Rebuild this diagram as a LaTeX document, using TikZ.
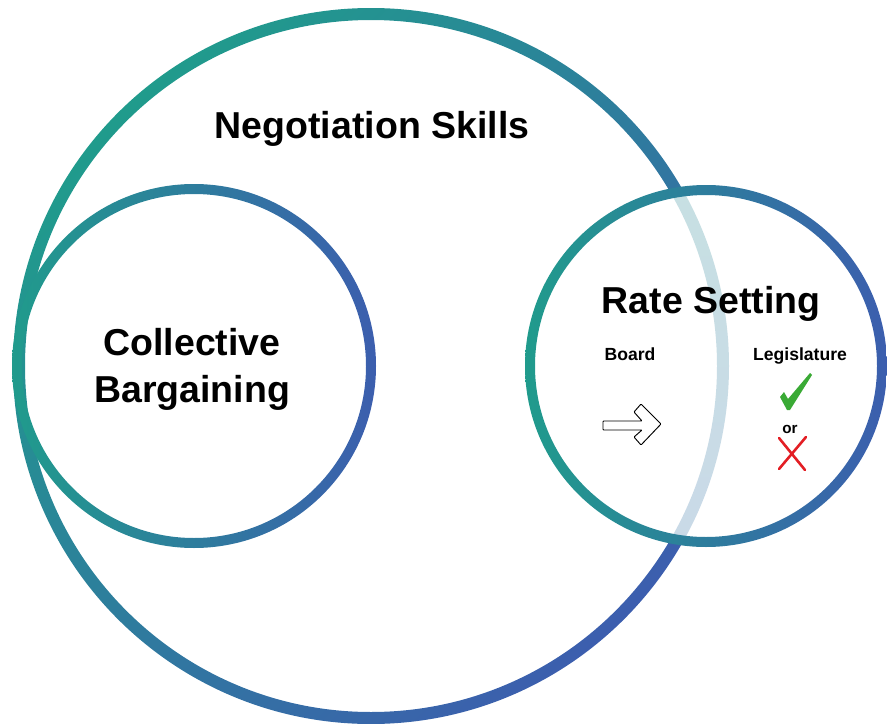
\documentclass[tikz,border=0pt]{standalone}
\usepackage{fontspec}
\setmainfont{Liberation Sans}

\definecolor{ringteal}{RGB}{32,155,140}
\definecolor{ringblue}{RGB}{60,94,174}
\definecolor{fadeteal}{RGB}{197,227,224}
\definecolor{fadeblue}{RGB}{203,214,234}
\definecolor{tickgreen}{RGB}{58,170,53}
\definecolor{crossred}{RGB}{227,30,36}

\begin{document}
\begin{tikzpicture}[
    x=0.03cm, y=-0.03cm,
    ring/.style={
        even odd rule,
        left color=ringteal,
        right color=ringblue
    },
    bigring/.style={
        even odd rule,
        top color=ringteal,
        bottom color=ringblue,
        shading angle=45
    },
    fadedring/.style={
        even odd rule,
        top color=fadeteal,
        bottom color=fadeblue
    },
    title/.style={
        font=\fontsize{32}{40}\selectfont\bfseries,
        align=center,
        inner sep=0pt
    },
    sublabel/.style={
        font=\fontsize{15}{18}\selectfont\bfseries,
        inner sep=0pt
    },
    hollowarrow/.style={
        draw=black,
        fill=white,
        line width=0.8pt,
        rounded corners=0.6pt,
        line join=round
    },
    xmark/.style={
        draw=crossred,
        line width=2.2pt,
        line cap=round
    }
]

    \useasboundingbox (0,0) rectangle (887,724);

    % Circle centres
    \coordinate (neg) at (371,366);
    \coordinate (coll) at (194,366);
    \coordinate (rate) at (706,366);

    % Outer ring, then the left one
    \shade[bigring] (neg) circle[radius=358] (neg) circle[radius=346];
    \shade[ring] (coll) circle[radius=182] (coll) circle[radius=172];

    % Right circle: white inside, outer ring shows through faintly
    \begin{scope}
        \clip (rate) circle[radius=172];
        \fill[white] (rate) circle[radius=172];
        \shade[fadedring] (neg) circle[radius=358] (neg) circle[radius=346];
    \end{scope}
    \shade[ring] (rate) circle[radius=181] (rate) circle[radius=171];

    % Titles
    \node[title, anchor=base] (negTitle) at (372,138) {Negotiation Skills};
    \node[title, anchor=base] (collTitle) at (192,402) {Collective\\Bargaining};
    \node[title, anchor=base] (rateTitle) at (711,313) {Rate Setting};

    % Two ways of setting the rate
    \node[sublabel, anchor=base] (board) at (630,360) {Board};
    \node[sublabel, anchor=base] (legis) at (800,360) {Legislature};

    % Board side: hollow arrow
    \draw[hollowarrow] (603,421) -- (642,421) -- (634,412) -- (641,404)
        -- (661,424) -- (641,445) -- (634,437) -- (642,430) -- (603,430) -- cycle;

    % Legislature side: tick, "or", cross
    \fill[tickgreen] (780,397) -- (784,392) -- (788,399) -- (810,373)
        -- (812,375) -- (790,410) -- (787,410) -- cycle;
    \node[font=\fontsize{13}{15}\selectfont\bfseries, inner sep=0pt, anchor=base] (orWord) at (790,433) {or};
    \draw[xmark] (779,438) -- (805,470);
    \draw[xmark] (806,437) -- (779,469);

\end{tikzpicture}
\end{document}
